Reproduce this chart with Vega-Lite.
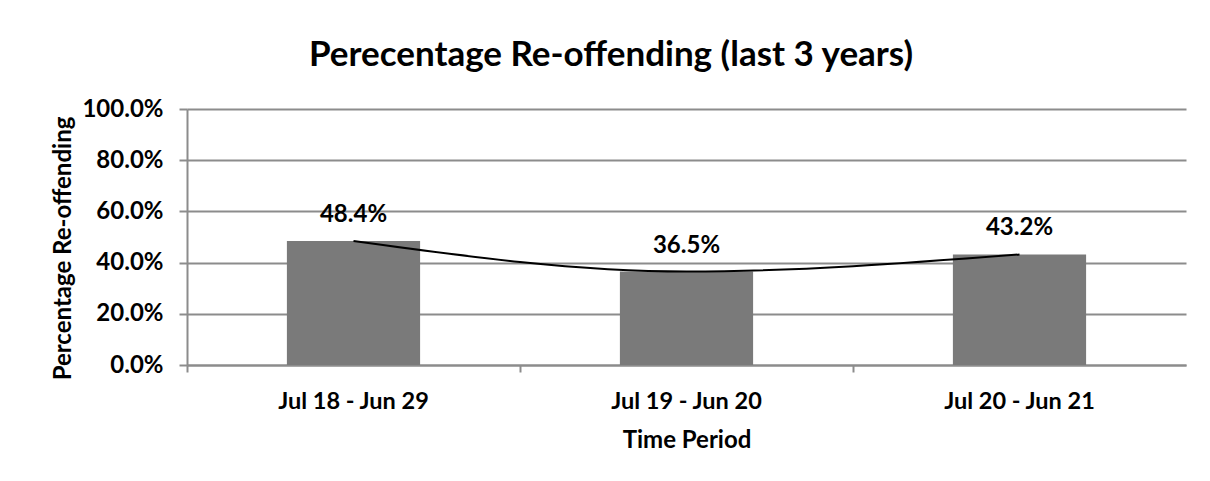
{
  "$schema": "https://vega.github.io/schema/vega-lite/v6.json",
  "width": 999,
  "height": 256,
  "autosize": {"type": "none"},
  "padding": {"left": 187, "top": 109, "right": 24, "bottom": 116},
  "background": "white",
  "config": {
    "font": "Lato",
    "view": {"stroke": null}
  },
  "title": {
    "text": "Perecentage Re-offending (last 3 years)",
    "font": "Lato",
    "fontSize": 35,
    "fontWeight": "bold",
    "color": "black",
    "anchor": "middle",
    "frame": "bounds",
    "offset": 24,
    "dx": -8
  },
  "data": {
    "values": [
      {"period": "Jul 18 - Jun 29", "rate": 0.484},
      {"period": "Jul 19 - Jun 20", "rate": 0.365},
      {"period": "Jul 20 - Jun 21", "rate": 0.432}
    ]
  },
  "encoding": {
    "x": {
      "field": "period",
      "type": "nominal",
      "sort": null,
      "scale": {"paddingInner": 0, "paddingOuter": 0},
      "axis": {
        "title": "Time Period",
        "labelAngle": 0,
        "bandPosition": 0,
        "labelFont": "Lato",
        "labelFontSize": 23.5,
        "labelFontWeight": "bold",
        "labelColor": "black",
        "labelPadding": 17,
        "titleFont": "Lato",
        "titleFontSize": 24,
        "titleFontWeight": "bold",
        "titleColor": "black",
        "titlePadding": 16,
        "domainColor": "#8c8c8c",
        "domainWidth": 2,
        "tickColor": "#8c8c8c",
        "tickWidth": 2,
        "tickSize": 7,
        "grid": false
      }
    },
    "y": {
      "field": "rate",
      "type": "quantitative",
      "scale": {"domain": [0, 1], "nice": false},
      "axis": {
        "title": "Percentage Re-offending",
        "format": ".1%",
        "values": [0, 0.2, 0.4, 0.6, 0.8, 1.0],
        "labelFont": "Lato",
        "labelFontSize": 24,
        "labelFontWeight": "bold",
        "labelColor": "black",
        "labelPadding": 16,
        "titleFont": "Lato",
        "titleFontSize": 24,
        "titleFontWeight": "bold",
        "titleColor": "black",
        "titlePadding": 6,
        "titleY": 139,
        "domainColor": "#8c8c8c",
        "domainWidth": 2,
        "tickColor": "#8c8c8c",
        "tickWidth": 2,
        "tickSize": 8,
        "grid": true,
        "gridColor": "#8c8c8c",
        "gridWidth": 2
      }
    }
  },
  "layer": [
    {
      "mark": {"type": "bar", "color": "#7a7a7a", "width": {"band": 0.4}}
    },
    {
      "mark": {"type": "line", "color": "black", "strokeWidth": 2, "interpolate": "monotone"}
    },
    {
      "mark": {"type": "text", "font": "Lato", "fontSize": 24, "fontWeight": "bold", "color": "black", "baseline": "alphabetic", "dy": -19},
      "encoding": {
        "text": {"field": "rate", "type": "quantitative", "format": ".1%"}
      }
    }
  ]
}
